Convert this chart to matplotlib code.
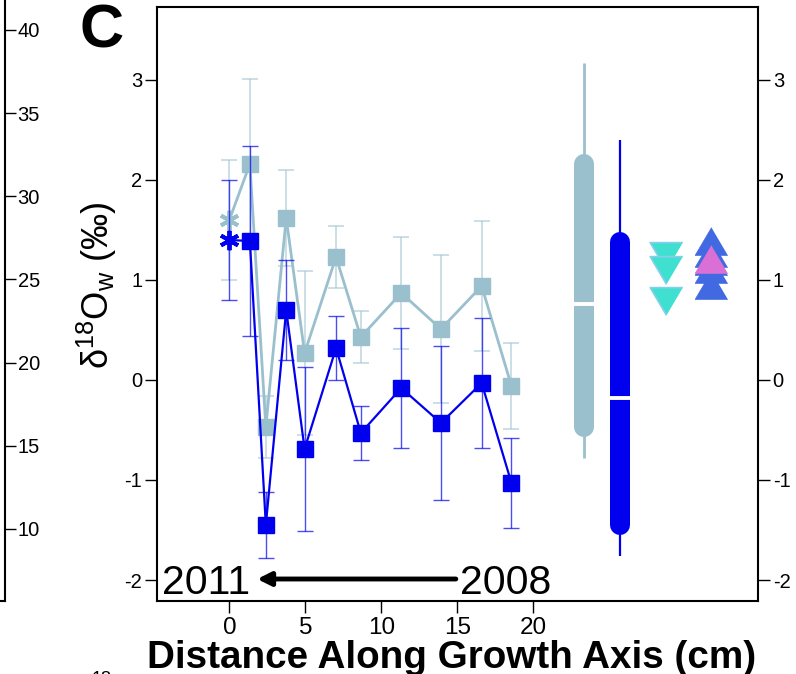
import numpy as np
import matplotlib.pyplot as plt

plt.rcParams['font.family'] = ['Liberation Sans', 'DejaVu Sans']
plt.rcParams['axes.unicode_minus'] = False
plt.rcParams['mathtext.fontset'] = 'custom'
plt.rcParams['mathtext.rm'] = 'Liberation Sans'
plt.rcParams['mathtext.it'] = 'Liberation Sans:italic'

# data
dist = [1.35, 2.40, 3.74, 4.95, 7.02, 8.65, 11.31, 13.92, 16.60, 18.56]
lb_vals = [2.16, -0.47, 1.62, 0.27, 1.23, 0.43, 0.87, 0.51, 0.94, -0.06]
lb_err = [0.85, 0.31, 0.48, 0.82, 0.31, 0.26, 0.56, 0.74, 0.65, 0.43]
b_vals = [1.39, -1.45, 0.70, -0.69, 0.32, -0.53, -0.08, -0.43, -0.03, -1.03]
b_err = [0.95, 0.33, 0.50, 0.82, 0.32, 0.27, 0.60, 0.77, 0.65, 0.45]
ast_x = 0
lb_ast, lb_ast_err = 1.6, 0.6
b_ast, b_ast_err = 1.4, 0.6

# range bars: [whisker lo, whisker hi, bar lo, bar hi, median]
bar_x = [23.34, 25.70]
lb_range = [-0.78, 3.17, -0.47, 2.16, 0.76]
b_range = [-1.76, 2.40, -1.45, 1.38, -0.18]

down_x = 28.73
down_vals = [1.24, 1.10, 0.79]
up_x = 31.69
up_vals = [1.39, 1.27, 1.19, 1.11, 0.95]
pink_vals = [1.21]

left_ticks = [10, 15, 20, 25, 30, 35, 40]

lightblue = '#9AC0CD'
blue = '#0000EE'

W, H = 796, 674
fig = plt.figure(figsize=(W / 100, H / 100), dpi=100)

def fx(px):
    return px / W

def fy(py):
    return 1 - py / H

# neighbouring panel's right axis, cut off at the left edge
axn = fig.add_axes([fx(-200), fy(601), 204.5 / W, 601 / H])
axn.set_ylim(5.67, 41.8)
axn.set_xlim(0, 1)
for s in ['left', 'top']:
    axn.spines[s].set_visible(False)
for s in ['right', 'bottom']:
    axn.spines[s].set_linewidth(1.5)
axn.yaxis.tick_right()
axn.set_yticks(left_ticks)
axn.set_xticks([])
axn.tick_params(axis='y', length=8, width=1, pad=1.5, labelsize=14.5)
axn.patch.set_alpha(0)

ax = fig.add_axes([fx(157), fy(601), (758 - 157) / W, (601 - 7.3) / H])
ax.set_xlim(-4.76, 34.78)
ax.set_ylim(-2.21, 3.727)
for s in ax.spines.values():
    s.set_linewidth(1.5)

# light blue series
ax.errorbar([ast_x] + dist, [lb_ast] + lb_vals, yerr=[lb_ast_err] + lb_err, fmt='none',
            ecolor=lightblue, elinewidth=1.3, capsize=5.8, capthick=1.3, alpha=0.55)
ax.plot([ast_x] + dist, [lb_ast] + lb_vals, color=lightblue, lw=2)
ax.plot(dist, lb_vals, 's', ms=12.2, color=lightblue)
ax.plot([ast_x], [lb_ast], marker=(6, 2, 0), ms=14, mew=2.8, color=lightblue, ls='none')

# blue series
ax.errorbar([ast_x] + dist, [b_ast] + b_vals, yerr=[b_ast_err] + b_err, fmt='none',
            ecolor=blue, elinewidth=1.0, capsize=5.8, capthick=1.0, alpha=0.7)
ax.plot([ast_x] + dist, [b_ast] + b_vals, color=blue, lw=1.6)
ax.plot(dist, b_vals, 's', ms=12.2, color=blue)
ax.plot([ast_x], [b_ast], marker=(6, 2, 0), ms=14, mew=2.8, color=blue, ls='none')

# range bars
for xb, rng, col, wl in [(bar_x[0], lb_range, lightblue, 2.0), (bar_x[1], b_range, blue, 1.6)]:
    ax.plot([xb, xb], rng[0:2], color=col, lw=wl, solid_capstyle='butt')
    ax.plot([xb, xb], rng[2:4], color=col, lw=14.4, solid_capstyle='round')
    ax.plot([xb - 0.66, xb + 0.66], [rng[4], rng[4]], color='white', lw=2.8,
            solid_capstyle='butt')

tri_down = [(0, -0.85), (-1, 0.85), (1, 0.85)]
tri_up = [(0, 0.85), (-1, -0.85), (1, -0.85)]
ax.plot([down_x] * len(down_vals), down_vals, ls='none', marker=tri_down, ms=23.5,
        mfc='#40E0D0', mec='#87CEEB', mew=1.2)
ax.plot([up_x] * len(up_vals), up_vals, ls='none', marker=tri_up, ms=23.5,
        mfc='#4169E1', mec='#4169E1', mew=0.5)
ax.plot([up_x] * len(pink_vals), pink_vals, ls='none', marker=tri_up, ms=23.5,
        mfc='#DA70D6', mec='#DA70D6', mew=0.5)

# time arrow
ax.annotate('', xy=(1.83, -1.99), xytext=(14.9, -1.99),
            arrowprops=dict(arrowstyle='-|>', lw=3.5, color='black',
                            mutation_scale=20, shrinkA=0, shrinkB=0))
ax.text(1.36, -2.14, '2011', ha='right', va='baseline', fontsize=29.5)
ax.text(15.15, -2.14, '2008', ha='left', va='baseline', fontsize=29.5)

ax.set_xticks([0, 5, 10, 15, 20])
ax.set_yticks([-2, -1, 0, 1, 2, 3])
ax.yaxis.set_ticks_position('both')
ax.tick_params(axis='y', length=8.6, width=1, labelsize=14.5, pad=2,
               labelright=True)
ax.tick_params(axis='x', length=8.6, width=1, labelsize=17.5, pad=3)

fig.text(fx(102), fy(47), 'C', ha='center', va='baseline', fontsize=44,
         weight='bold')
fig.text(fx(97), fy(285), r'$\mathregular{\delta^{18}O_w}$ (‰)', rotation=90,
         ha='center', va='center', fontsize=26)
fig.text(fx(452), fy(668), 'Distance Along Growth Axis (cm)', ha='center',
         va='baseline', fontsize=27.8, weight='bold')
fig.text(fx(102), fy(684), '18', ha='center', va='baseline', fontsize=13)

fig.savefig('out.png', dpi=100)
